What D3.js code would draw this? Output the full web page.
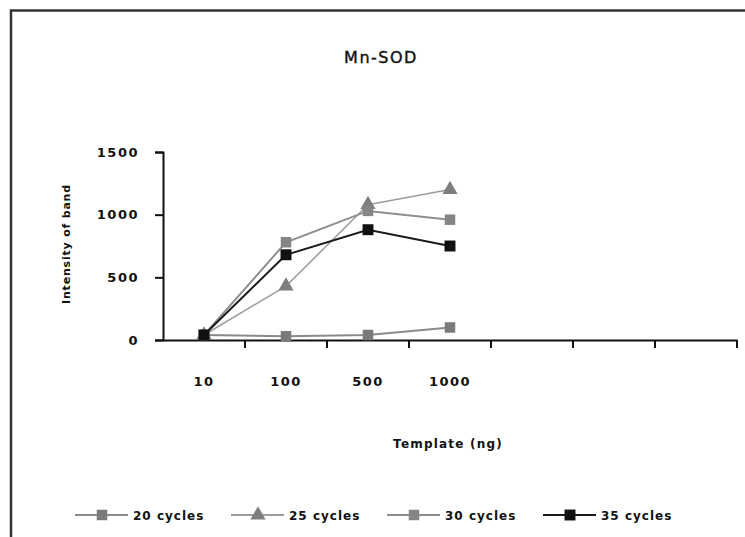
<!DOCTYPE html>
<html lang="en">
<head>
    <meta charset="UTF-8">
    <title>Mn-SOD</title>
    <script src="https://d3js.org/d3.v7.min.js"></script>
    <style>
        body { margin: 0; background: #fff; }
        text { font-family: "DejaVu Sans", sans-serif; font-weight: bold; fill: #111; }
        .tick-label { font-size: 13px; letter-spacing: 1.5px; }
    </style>
</head>
<body>
<div id="chart"></div>
<script>
    // data
    const templates = ["10", "100", "500", "1000", "", "", ""];
    const seriesNames = ["20 cycles", "25 cycles", "30 cycles", "35 cycles"];
    const cycles20 = [40, 30, 40, 100];
    const cycles25 = [40, 430, 1080, 1200];
    const cycles30 = [40, 780, 1030, 960];
    const cycles35 = [40, 680, 880, 750];
    const yTicks = [0, 500, 1000, 1500];

    const width = 745, height = 537;
    const plot = { left: 163, right: 737, top: 152, bottom: 340 };

    const svg = d3.select("#chart").append("svg")
        .attr("width", width).attr("height", height);

    // frame (only top and left edges show in the scan)
    svg.append("path")
        .attr("d", `M11,${height} V10.5 H${width}`)
        .attr("fill", "none").attr("stroke", "#333").attr("stroke-width", 2.5);

    const x = d3.scaleBand().domain(d3.range(templates.length)).range([plot.left, plot.right]);
    const y = d3.scaleLinear().domain([0, 1500]).range([plot.bottom, plot.top]);

    const series = [
        { name: seriesNames[0], values: cycles20, color: "#7a7a7a", line: "#8a8a8a", lw: 2, shape: d3.symbolSquare, size: 110 },
        { name: seriesNames[1], values: cycles25, color: "#7e7e7e", line: "#9c9c9c", lw: 1.5, shape: d3.symbolTriangle, size: 100 },
        { name: seriesNames[2], values: cycles30, color: "#858585", line: "#8e8e8e", lw: 2, shape: d3.symbolSquare, size: 110 },
        { name: seriesNames[3], values: cycles35, color: "#111", line: "#1a1a1a", lw: 2, shape: d3.symbolSquare, size: 120 }
    ];

    // title
    svg.append("text").attr("x", 381).attr("y", 63)
        .attr("text-anchor", "middle")
        .style("font-size", "16px").style("font-weight", "normal").style("letter-spacing", "1.5px")
        .style("stroke", "#111").style("stroke-width", 0.4)
        .text("Mn-SOD");

    // y axis
    const yAxis = svg.append("g").attr("transform", `translate(${plot.left},0)`)
        .call(d3.axisLeft(y).tickValues(yTicks).tickFormat(d3.format("d")).tickSize(8).tickPadding(16));
    yAxis.select(".domain").attr("stroke", "#111").attr("stroke-width", 2);
    yAxis.selectAll(".tick line").attr("stroke", "#111").attr("stroke-width", 2);
    yAxis.selectAll(".tick text").attr("class", "tick-label").attr("fill", "#111");

    svg.append("text")
        .attr("transform", `translate(70,244) rotate(-90)`)
        .attr("text-anchor", "middle")
        .style("font-size", "11px").style("letter-spacing", "0.8px")
        .text("Intensity of band");

    // x axis
    const xAxis = svg.append("g").attr("transform", `translate(0,${plot.bottom})`)
        .call(d3.axisBottom(x).tickFormat(i => templates[i]).tickSize(0).tickPadding(37));
    xAxis.select(".domain").attr("stroke", "#111").attr("stroke-width", 2);
    xAxis.selectAll(".tick text").attr("class", "tick-label").attr("fill", "#111");

    // tick marks between categories
    svg.append("g").selectAll("line")
        .data(d3.range(1, templates.length + 1))
        .join("line")
        .attr("x1", i => x.step() * i + plot.left)
        .attr("x2", i => x.step() * i + plot.left)
        .attr("y1", plot.bottom).attr("y2", plot.bottom + 8)
        .attr("stroke", "#111").attr("stroke-width", 2);

    svg.append("text").attr("x", (plot.left + plot.right) / 2 - 2).attr("y", 448)
        .attr("text-anchor", "middle")
        .style("font-size", "12px").style("letter-spacing", "1.2px")
        .text("Template (ng)");

    // lines and markers
    const line = d3.line()
        .x((d, i) => x(i) + x.bandwidth() / 2)
        .y(d => y(d));

    series.forEach(s => {
        svg.append("path").datum(s.values)
            .attr("d", line)
            .attr("fill", "none")
            .attr("stroke", s.line)
            .attr("stroke-width", s.lw);
    });
    series.forEach(s => {
        svg.append("g").selectAll("path")
            .data(s.values)
            .join("path")
            .attr("transform", (d, i) => `translate(${x(i) + x.bandwidth() / 2},${y(d)})`)
            .attr("d", d3.symbol(s.shape, s.size))
            .attr("fill", s.color);
    });

    // legend
    const legend = svg.append("g").attr("transform", "translate(0,515)");
    const item = legend.selectAll("g").data(series).join("g")
        .attr("transform", (d, i) => `translate(${75 + i * 156},0)`);
    item.append("line").attr("x1", 0).attr("x2", 53).attr("y1", 0).attr("y2", 0)
        .attr("stroke", d => d.line).attr("stroke-width", 2);
    item.append("path").attr("transform", "translate(27,0)")
        .attr("d", d => d3.symbol(d.shape, d.size)())
        .attr("fill", d => d.color);
    item.append("text").attr("x", 58).attr("y", 5)
        .style("font-size", "12px").style("letter-spacing", "1px")
        .text(d => d.name);
</script>
</body>
</html>
